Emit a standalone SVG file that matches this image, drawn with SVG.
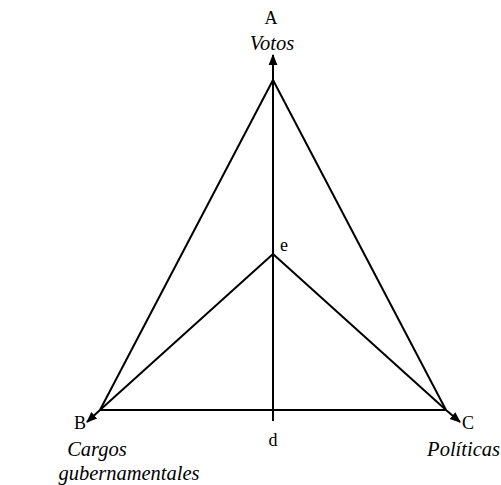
<svg xmlns="http://www.w3.org/2000/svg" width="501" height="485" viewBox="0 0 501 485">
<style>
.ln{stroke:#000;stroke-width:2;fill:none}
.lb{font-family:"Liberation Serif","Times New Roman",serif;font-size:18px;fill:#000}
.it{font-family:"Liberation Serif","Times New Roman",serif;font-size:20.5px;font-style:italic;fill:#000}
</style>
<defs>
<marker id="ah" viewBox="0 0 10 10" refX="9" refY="5" markerWidth="5.5" markerHeight="5.5" orient="auto" markerUnits="strokeWidth">
<path d="M0,1 L10,5 L0,9 Z" fill="#000"/>
</marker>
</defs>
<rect width="501" height="485" fill="#fff"/>
<g id="connectors">
<line class="ln" x1="273" y1="80" x2="100" y2="410"/>
<line class="ln" x1="273" y1="80" x2="446" y2="410"/>
<line class="ln" x1="100" y1="410" x2="446" y2="410"/>
<line class="ln" x1="100" y1="410" x2="273" y2="254"/>
<line class="ln" x1="446" y1="410" x2="273" y2="254"/>
<line class="ln" x1="273" y1="421" x2="273" y2="55" marker-end="url(#ah)"/>
<line class="ln" x1="100" y1="410" x2="87" y2="422" marker-end="url(#ah)"/>
<line class="ln" x1="446" y1="410" x2="460" y2="422" marker-end="url(#ah)"/>
</g>
<g id="node-A">
<text class="lb" x="271" y="24" text-anchor="middle">A</text>
<text class="it" x="272" y="50" text-anchor="middle">Votos</text>
</g>
<g id="node-B">
<text class="lb" x="86" y="429" text-anchor="end">B</text>
<text class="it" x="97" y="456" text-anchor="middle">Cargos</text>
<text class="it" x="129" y="480" text-anchor="middle">gubernamentales</text>
</g>
<g id="node-C">
<text class="lb" x="462" y="429">C</text>
<text class="it" x="500" y="456" text-anchor="end">Políticas</text>
</g>
<g id="node-d">
<text class="lb" x="273" y="446" text-anchor="middle">d</text>
</g>
<g id="node-e">
<text class="lb" x="280" y="251">e</text>
</g>
</svg>
